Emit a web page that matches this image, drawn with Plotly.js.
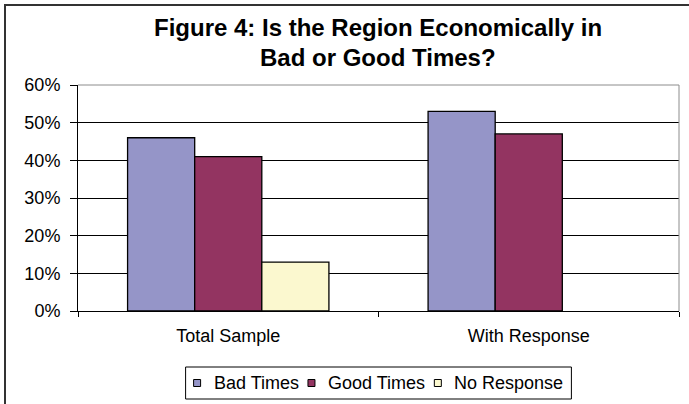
<!DOCTYPE html>
<html>
<head>
<meta charset="utf-8">
<script src="https://cdn.plot.ly/plotly-3.0.1.min.js"></script>
<style>
  html, body { margin: 0; padding: 0; background: #ffffff; }
  #chart { width: 689px; height: 404px; }
</style>
</head>
<body>
<div id="chart"></div>
<script>
// Survey answers: is the region economically in bad or good times?
const categories = ['Total Sample', 'With Response'];
const seriesNames = ['Bad Times', 'Good Times', 'No Response'];
const badTimes = [0.46, 0.53];
const goodTimes = [0.41, 0.47];
const noResponse = [0.13, null];
const titleLines = ['Figure 4: Is the Region Economically in', 'Bad or Good Times?'];

const seriesValues = [badTimes, goodTimes, noResponse];
const seriesColors = ['#9595C8', '#933461', '#FBF8CF'];

const FONT = '"Liberation Sans", Arial, sans-serif';
const W = 689, H = 404;
const M = { l: 78, r: 10, t: 85, b: 93 };
const plotW = W - M.l - M.r;
const plotH = H - M.t - M.b;

// pixel -> paper coordinate helpers for decorations outside the plot area
const px = x => (x - M.l) / plotW;
const py = y => (H - M.b - y) / plotH;

const traces = seriesNames.map((name, i) => ({
  type: 'bar',
  name: name,
  x: categories,
  y: seriesValues[i],
  marker: { color: seriesColors[i], line: { color: '#000000', width: 1.3 } },
  showlegend: false,
  hoverinfo: 'x+y+name'
}));

const shapes = [
  // chart frame
  { type: 'rect', xref: 'paper', yref: 'paper', x0: px(5), x1: px(760), y0: py(5), y1: py(440),
    line: { color: '#333333', width: 2 }, fillcolor: 'rgba(0,0,0,0)', layer: 'above' },
  // grey plot-area border on top and right
  { type: 'line', xref: 'paper', yref: 'paper', x0: 0, x1: 1, y0: 1, y1: 1,
    line: { color: '#8c8c8c', width: 1 }, layer: 'above' },
  { type: 'line', xref: 'paper', yref: 'paper', x0: 1, x1: 1, y0: 0, y1: 1,
    line: { color: '#8c8c8c', width: 1 }, layer: 'above' }
];

const annotations = [
  { text: '<b>' + titleLines[0] + '</b>', x: px(378), y: py(27) },
  { text: '<b>' + titleLines[1] + '</b>', x: px(378), y: py(57) }
].map(a => Object.assign(a, {
  xref: 'paper', yref: 'paper', xanchor: 'center', yanchor: 'middle', showarrow: false,
  font: { family: FONT, size: 24, color: '#000000' }
}));

// legend box laid out from measured text widths
const legendFont = 18;
const ctx = document.createElement('canvas').getContext('2d');
ctx.font = legendFont + 'px "Liberation Sans"';
const sq = 7, sqGap = 11, itemGap = 11, padL = 8, padR = 10;
const widths = seriesNames.map(n => ctx.measureText(n).width);
let total = padL + padR;
widths.forEach((w, i) => { total += sq + sqGap + w + (i < widths.length - 1 ? itemGap : 0); });
const legCx = M.l + plotW / 2;
const legL = legCx - total / 2, legR = legCx + total / 2;
const legT = 367, legB = 399, legMid = (legT + legB) / 2;
shapes.push({ type: 'rect', xref: 'paper', yref: 'paper', x0: px(legL), x1: px(legR), y0: py(legB), y1: py(legT),
  line: { color: '#000000', width: 1 }, fillcolor: '#ffffff', layer: 'above' });
let cx = legL + padL;
seriesNames.forEach((name, i) => {
  shapes.push({ type: 'rect', xref: 'paper', yref: 'paper',
    x0: px(cx), x1: px(cx + sq), y0: py(legMid + sq / 2), y1: py(legMid - sq / 2),
    line: { color: '#000000', width: 1 }, fillcolor: seriesColors[i], layer: 'above' });
  annotations.push({ text: name, xref: 'paper', yref: 'paper', x: px(cx + sq + sqGap), y: py(legMid),
    xanchor: 'left', yanchor: 'middle', showarrow: false,
    font: { family: FONT, size: legendFont, color: '#000000' } });
  cx += sq + sqGap + widths[i] + itemGap;
});

const layout = {
  width: W, height: H,
  margin: { l: M.l, r: M.r, t: M.t, b: M.b, pad: 0 },
  paper_bgcolor: '#ffffff', plot_bgcolor: '#ffffff',
  font: { family: FONT, size: 18, color: '#000000' },
  barmode: 'group', bargap: 0.33, bargroupgap: 0,
  showlegend: false,
  xaxis: {
    type: 'category', tickson: 'boundaries', ticks: 'outside', ticklen: 5, tickcolor: '#000000', tickwidth: 1,
    showline: true, linecolor: '#000000', linewidth: 1, showgrid: false, zeroline: false,
    tickfont: { family: FONT, size: 18, color: '#000000' }, ticklabelstandoff: 8, fixedrange: true
  },
  yaxis: {
    range: [0, 0.6], dtick: 0.1, tick0: 0, tickformat: '.0%', ticks: 'outside', ticklen: 7,
    tickcolor: '#000000', tickwidth: 1, showline: true, linecolor: '#000000', linewidth: 1,
    showgrid: true, gridcolor: '#000000', gridwidth: 1, zeroline: false,
    tickfont: { family: FONT, size: 18, color: '#000000' }, ticklabelstandoff: 6, fixedrange: true
  },
  shapes: shapes,
  annotations: annotations
};

Plotly.newPlot('chart', traces, layout, { displayModeBar: false, staticPlot: true });
</script>
</body>
</html>
